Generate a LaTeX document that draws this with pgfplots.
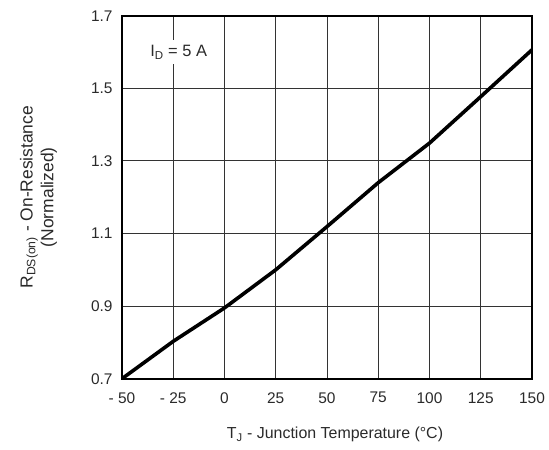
\documentclass[border=0pt]{standalone}
\usepackage{pgfplots}
\pgfplotsset{compat=1.18}
\usepackage{fontspec}
\setmainfont{Liberation Sans}
\definecolor{txt}{HTML}{2A2A2A}
\definecolor{gridc}{HTML}{333333}
\begin{document}
\begin{tikzpicture}
\begin{axis}[
  scale only axis,
  width=410bp, height=363bp,
  xmin=-50, xmax=150, ymin=0.7, ymax=1.7,
  xtick={-50,-25,0,25,50,75,100,125,150},
  xticklabels={- 50,- 25,0,25,50,75,100,125,150},
  ytick={0.7,0.9,1.1,1.3,1.5,1.7},
  yticklabels={0.7,0.9,1.1,1.3,1.5,1.7},
  major tick length=0pt,
  grid=major,
  major grid style={gridc, line width=1bp},
  axis line style={black, line width=1.8bp},
  tick label style={font=\fontsize{15.5}{17}\selectfont, text=txt},
  xticklabel style={yshift=-10bp},
  yticklabel style={xshift=-6bp},
  xlabel={T\textsubscript{J} - Junction Temperature (°C)},
  xlabel style={font=\fontsize{16}{18}\selectfont, text=txt, at={(rel axis cs:0.5,0)}, anchor=center, xshift=8bp, yshift=-56bp},
  ylabel={R\textsubscript{DS(on)} - On-Resistance\\(Normalized)},
  ylabel style={font=\fontsize{17.5}{21}\selectfont, text=txt, align=center, at={(rel axis cs:0,0.5)}, anchor=center, yshift=83.5bp},
]
\addplot[black, line width=3.6bp] coordinates {
(-50,0.70) (-25,0.803) (0,0.895) (25,1.0) (50,1.119) (75,1.240) (100,1.349) (125,1.477) (150,1.606)
};
\node[fill=white, inner xsep=1bp, inner ysep=5bp, text=txt, font=\fontsize{16.5}{18}\selectfont, anchor=base west] at (axis cs:-36.8,1.587) {I\textsubscript{D} = 5 A};
\coordinate (bl) at (rel axis cs:0,0);
\coordinate (tr) at (rel axis cs:1,1);
\end{axis}
\pgfresetboundingbox
\path[use as bounding box] ([shift={(-122bp,-71bp)}]bl) rectangle ([shift={(17bp,15.7bp)}]tr);
\end{tikzpicture}
\end{document}
